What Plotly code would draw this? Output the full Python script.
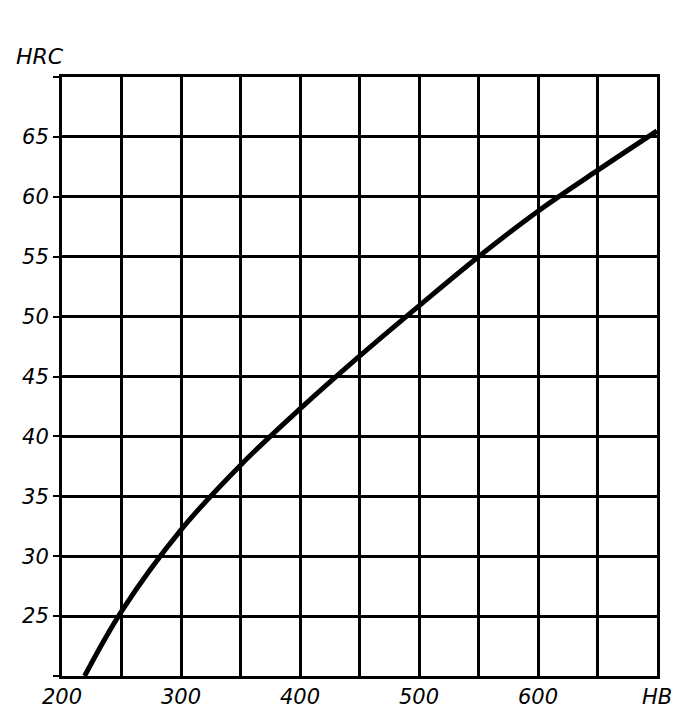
import plotly.graph_objects as go

# Curve (HB -> HRC)
hb = [219, 250, 300, 350, 400, 450, 500, 550, 600, 650, 700]
hrc = [20, 25.4, 32.2, 37.6, 42.3, 46.7, 50.9, 55.0, 58.8, 62.2, 65.5]

x_ticks = [200, 250, 300, 350, 400, 450, 500, 550, 600, 650, 700]
x_labels = ["200", "", "300", "", "400", "", "500", "", "600", "", "HB"]
y_ticks = [20, 25, 30, 35, 40, 45, 50, 55, 60, 65, 70]
y_labels = ["", "25", "30", "35", "40", "45", "50", "55", "60", "65", ""]

fig = go.Figure()
fig.add_trace(go.Scatter(
    x=hb, y=hrc, mode="lines",
    line=dict(color="black", width=5, shape="spline", smoothing=1.0),
    showlegend=False, hoverinfo="skip",
))

tickfont = dict(family="DejaVu Sans", size=21, color="black", style="italic")

fig.update_layout(
    width=685, height=701,
    margin=dict(l=54, r=36, t=69, b=33),
    paper_bgcolor="white", plot_bgcolor="white",
    xaxis=dict(
        range=[200, 700], tickvals=x_ticks, ticktext=x_labels,
        showgrid=True, gridcolor="black", gridwidth=2.5,
        showline=True, linecolor="black", linewidth=3, mirror=True,
        ticks="", tickfont=tickfont, zeroline=False, fixedrange=True,
        automargin=False,
    ),
    yaxis=dict(
        range=[20, 70], tickvals=y_ticks, ticktext=y_labels,
        showgrid=True, gridcolor="black", gridwidth=2.5,
        showline=True, linecolor="black", linewidth=3, mirror=True,
        ticks="outside", ticklen=6, tickwidth=2, tickcolor="black",
        tickfont=tickfont, zeroline=False, fixedrange=True,
        automargin=False,
    ),
    annotations=[dict(
        text="HRC", xref="paper", yref="paper", x=-0.08, y=1.0,
        xanchor="left", yanchor="bottom", yshift=6, showarrow=False,
        font=dict(family="DejaVu Sans", size=22, color="black", style="italic"),
    )],
)

fig.write_html("out.html")
